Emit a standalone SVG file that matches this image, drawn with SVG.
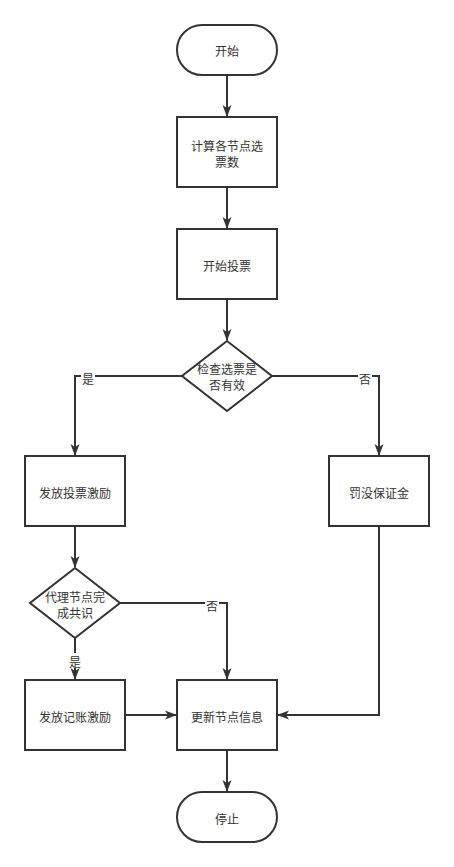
<svg xmlns="http://www.w3.org/2000/svg" width="454" height="867" viewBox="0 0 454 867">
<style>
.n{fill:#fff;stroke:#333;stroke-width:2}
.t{font-family:"Noto Sans CJK SC","Liberation Sans",sans-serif;font-size:12px;fill:#333;text-anchor:middle;dominant-baseline:central}
.e{fill:none;stroke:#333;stroke-width:2}
.lb{fill:#fff}
</style>
<defs>
<marker id="a" markerWidth="12" markerHeight="10" viewBox="0 0 12 10" refX="11" refY="5" orient="auto" markerUnits="userSpaceOnUse">
<path d="M0,0.5 L12,5 L0,9.5 L3,5 Z" fill="#333"/>
</marker>
</defs>
<rect width="454" height="867" fill="#fff"/>
<g id="edges">
<path class="e" d="M227,75 V116" marker-end="url(#a)"/>
<path class="e" d="M227,187 V228" marker-end="url(#a)"/>
<path class="e" d="M227,299 V340" marker-end="url(#a)"/>
<path class="e" d="M182,376 H75 V455" marker-end="url(#a)"/>
<path class="e" d="M272,376 H379 V455" marker-end="url(#a)"/>
<path class="e" d="M75,526 V567" marker-end="url(#a)"/>
<path class="e" d="M120,603 H227 V679" marker-end="url(#a)"/>
<path class="e" d="M75,638 V679" marker-end="url(#a)"/>
<path class="e" d="M125,715 H176" marker-end="url(#a)"/>
<path class="e" d="M379,526 V715 H278" marker-end="url(#a)"/>
<path class="e" d="M227,750 V791" marker-end="url(#a)"/>
<rect class="lb" x="81" y="370" width="14" height="15"/>
<text class="t" x="88" y="378">是</text>
<rect class="lb" x="358" y="370" width="14" height="15"/>
<text class="t" x="365" y="378">否</text>
<rect class="lb" x="205" y="597" width="14" height="15"/>
<text class="t" x="212" y="605">否</text>
<rect class="lb" x="68" y="653" width="14" height="15"/>
<text class="t" x="75" y="661">是</text>
</g>
<g id="start"><rect class="n" x="177" y="25" width="100" height="50" rx="25"/><text class="t" x="227" y="50">开始</text></g>
<g id="calc"><rect class="n" x="177" y="117" width="100" height="70"/><text class="t" x="227" y="145">计算各节点选</text><text class="t" x="227" y="161">票数</text></g>
<g id="vote"><rect class="n" x="177" y="229" width="100" height="70"/><text class="t" x="227" y="265">开始投票</text></g>
<g id="check"><path class="n" d="M227,341 L272,376 L227,411 L182,376 Z"/><text class="t" x="227" y="368">检查选票是</text><text class="t" x="227" y="384">否有效</text></g>
<g id="reward"><rect class="n" x="25" y="456" width="100" height="70"/><text class="t" x="75" y="492">发放投票激励</text></g>
<g id="penalty"><rect class="n" x="329" y="456" width="100" height="70"/><text class="t" x="379" y="492">罚没保证金</text></g>
<g id="consensus"><path class="n" d="M75,568 L120,603 L75,638 L30,603 Z"/><text class="t" x="75" y="596">代理节点完</text><text class="t" x="75" y="612">成共识</text></g>
<g id="bookkeep"><rect class="n" x="25" y="680" width="100" height="70"/><text class="t" x="75" y="716">发放记账激励</text></g>
<g id="update"><rect class="n" x="177" y="680" width="100" height="70"/><text class="t" x="227" y="716">更新节点信息</text></g>
<g id="stop"><rect class="n" x="177" y="792" width="100" height="50" rx="25"/><text class="t" x="227" y="818">停止</text></g>
</svg>
